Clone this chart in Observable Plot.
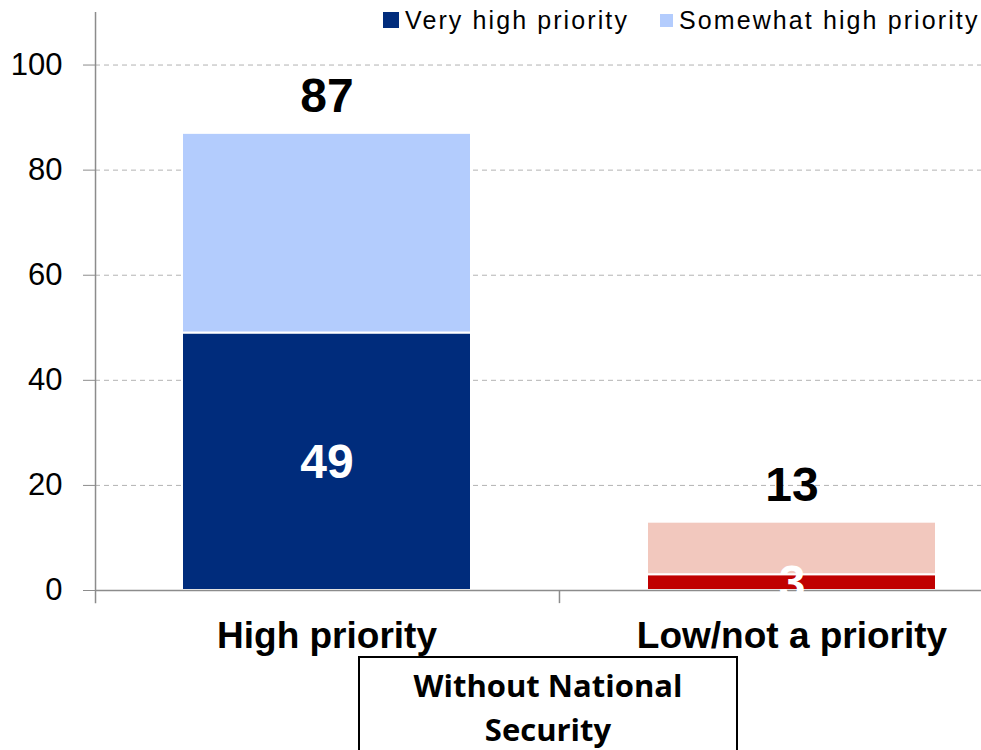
<!DOCTYPE html>
<html>
<head>
<meta charset="utf-8">
<script src="https://cdn.jsdelivr.net/npm/d3@7"></script>
<script src="https://cdn.jsdelivr.net/npm/@observablehq/plot@0.6"></script>
<style>
  html, body { margin: 0; padding: 0; background: #fff; }
  #wrap { position: relative; width: 981px; height: 750px; overflow: hidden; font-family: "Liberation Sans", Arial, sans-serif; }
  #legend .item { position: absolute; top: 6px; display: flex; align-items: center; font-size: 25px; letter-spacing: 2.1px; color: #000; white-space: nowrap; line-height: 28px; }
  #legend .sw { display: inline-block; margin-right: 6px; }
  #box { position: absolute; left: 358px; top: 656px; width: 380px; height: 110px; border: 2px solid #000; box-sizing: border-box; text-align: center; font-family: "Open Sans", "Lato", sans-serif; font-weight: bold; font-size: 31px; line-height: 44px; padding-top: 5px; background: #fff; }
</style>
</head>
<body>
<div id="wrap">
  <div id="chart"></div>
  <div id="legend"></div>
  <div id="box">Without National<br>Security</div>
</div>
<script>
// ---- data ----
const categories = ["High priority", "Low/not a priority"];
const innerValues = [49, 3];      // darker segment
const outerValues = [38, 10];     // lighter segment
const totals = [87, 13];
const innerColors = ["#002C7C", "#C00000"];
const outerColors = ["#B3CCFD", "#F2C8BE"];
const legendLabels = ["Very high priority", "Somewhat high priority"];
const legendColors = ["#002C7C", "#B3CCFD"];
const yTicks = [0, 20, 40, 60, 80, 100];
const gridTicks = [20, 40, 60, 80, 100];

// ---- table ----
const rows = [];
categories.forEach((c, i) => {
  rows.push({cat: c, value: innerValues[i], color: innerColors[i]});
  rows.push({cat: c, value: outerValues[i], color: outerColors[i]});
});
const innerLabels = categories.map((c, i) => ({cat: c, y: innerValues[i] / 2, label: String(innerValues[i])}));
const totalLabels = categories.map((c, i) => ({cat: c, y: totals[i], label: String(totals[i])}));

// scale geometry
const xRange = [95, 1023];
const pIn = 0.3785, pOut = 0.187;
const step = (xRange[1] - xRange[0]) / (categories.length - pIn + 2 * pOut);
const bw = step * (1 - pIn);

const chart = Plot.plot({
  width: 981,
  height: 750,
  marginLeft: 95,
  marginRight: 0,
  marginTop: 12,
  marginBottom: 160,
  style: {fontFamily: "'Liberation Sans', Arial, sans-serif", background: "#fff"},
  x: {domain: categories, range: xRange, paddingInner: pIn, paddingOuter: pOut, axis: null},
  y: {domain: [0, 110], axis: null},
  marks: [
    Plot.ruleY(gridTicks, {stroke: "#b3b3b3", strokeDasharray: "5,4", strokeWidth: 1}),
    Plot.barY(rows, {x: "cat", y: "value", fill: "color", stroke: "white", strokeWidth: 2}),
    Plot.ruleY([0], {stroke: "#8c8c8c", strokeWidth: 1.5}),
    Plot.ruleX([categories[0]], {x: d => d, dx: -(step * pOut + bw / 2), y1: -2.5, y2: 110, stroke: "#8c8c8c", strokeWidth: 1.5}),
    Plot.ruleX([categories[1]], {x: d => d, dx: -step / 2, y1: 0, y2: -2.5, stroke: "#8c8c8c", strokeWidth: 1.5}),
    Plot.axisY({ticks: yTicks, tickSize: 12, tickPadding: 21, fontSize: 31, stroke: "#8c8c8c", fill: "#000", tickFormat: d => String(d)}),
    Plot.axisX({tickSize: 0, tickPadding: 31, fontSize: 37, fontWeight: "bold", fill: "#000", letterSpacing: 0.6}),
    Plot.text(innerLabels, {x: "cat", y: "y", text: "label", fill: "white", fontSize: 48, fontWeight: "bold", dy: 1}),
    Plot.text(totalLabels, {x: "cat", y: "y", text: "label", fill: "black", fontSize: 48, fontWeight: "bold", dy: -37})
  ]
});
document.getElementById("chart").appendChild(chart);

// legend
const legend = document.getElementById("legend");
const legendLefts = [383, 660];
legendLabels.forEach((l, i) => {
  const item = document.createElement("span");
  item.className = "item";
  item.style.left = legendLefts[i] + "px";
  const sw = document.createElement("span");
  sw.className = "sw";
  const s = i === 0 ? 16 : 13;
  sw.style.width = s + "px";
  sw.style.height = s + "px";
  sw.style.background = legendColors[i];
  item.appendChild(sw);
  const t = document.createElement("span");
  t.textContent = l;
  item.appendChild(t);
  legend.appendChild(item);
});
</script>
</body>
</html>
